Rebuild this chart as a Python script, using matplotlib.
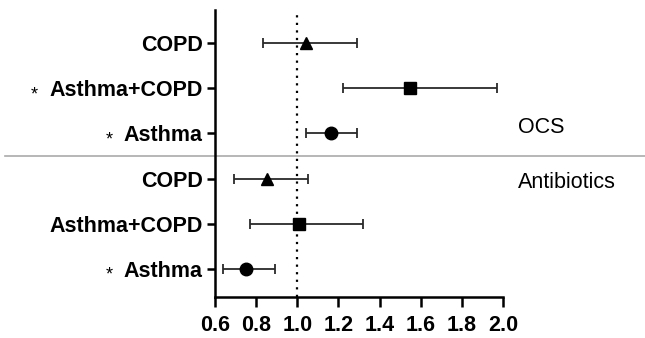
import numpy as np
import matplotlib.pyplot as plt
from matplotlib import rc

rc('font', **{'family': 'sans-serif', 'sans-serif': ['Liberation Sans'], 'size': 15.5})

# rows listed bottom to top
groups = ["Antibiotics", "Antibiotics", "Antibiotics", "OCS", "OCS", "OCS"]
labels = ["Asthma", "Asthma+COPD", "COPD", "Asthma", "Asthma+COPD", "COPD"]
starred = [True, False, False, True, True, False]
est = [0.75, 1.01, 0.855, 1.165, 1.55, 1.04]
ci_lo = [0.64, 0.77, 0.69, 1.04, 1.22, 0.835]
ci_hi = [0.89, 1.32, 1.05, 1.29, 1.97, 1.29]
markers = ["o", "s", "^", "o", "s", "^"]

xticks = [0.6, 0.8, 1.0, 1.2, 1.4, 1.6, 1.8, 2.0]

fig = plt.figure(figsize=(6.45, 3.38), dpi=100)
fig.patch.set_facecolor('w')
ax = fig.add_axes([215/645, 1-297/338, 288/645, 287/338])

ypos = np.arange(len(labels))
est = np.array(est)
ci_lo = np.array(ci_lo)
ci_hi = np.array(ci_hi)

ax.axvline(1.0, color='k', lw=1.6, linestyle=(0, (1, 2.4)), zorder=1)

for y, m, e, lo, hi in zip(ypos, markers, est, ci_lo, ci_hi):
    ax.errorbar(e, y, xerr=[[e-lo], [hi-e]], fmt=m, color='k', ms=9 if m != 's' else 8.5,
                ecolor='#2a2a2a', elinewidth=1.3, capsize=3.5, capthick=1.3, zorder=3)

# separator between the two outcome groups
ax.axhline(2.5, xmin=-0.73, xmax=1.5, color='#aaaaaa', lw=1.2, clip_on=False)

ax.text(2.073, 3.14, "OCS", fontsize=15.5, va='center', ha='left', clip_on=False)
ax.text(2.073, 1.92, "Antibiotics", fontsize=15.5, va='center', ha='left', clip_on=False)

ax.set_xlim(0.6, 2.0)
ax.set_ylim(-0.62, 5.73)
ax.set_xticks(xticks)
ax.set_xticklabels(["%.1f" % t for t in xticks], fontweight='bold')
ax.set_yticks(ypos)
ax.set_yticklabels(labels, fontweight='bold')

for s in ['top', 'right']:
    ax.spines[s].set_visible(False)
for s in ['left', 'bottom']:
    ax.spines[s].set_linewidth(1.8)
ax.tick_params(axis='both', width=1.8, length=6, pad=3)
ax.tick_params(axis='x', length=7, pad=6)

# asterisks left of the significant labels
fig.canvas.draw()
renderer = fig.canvas.get_renderer()
for tl, star in zip(ax.get_yticklabels(), starred):
    if not star:
        continue
    bb = tl.get_window_extent(renderer)
    xs, ys = fig.transFigure.inverted().transform((bb.x0 - 11, (bb.y0 + bb.y1)/2 - 4))
    fig.text(xs, ys, "*", fontsize=13, ha='right', va='center')

fig.savefig("out.png", dpi=100)
